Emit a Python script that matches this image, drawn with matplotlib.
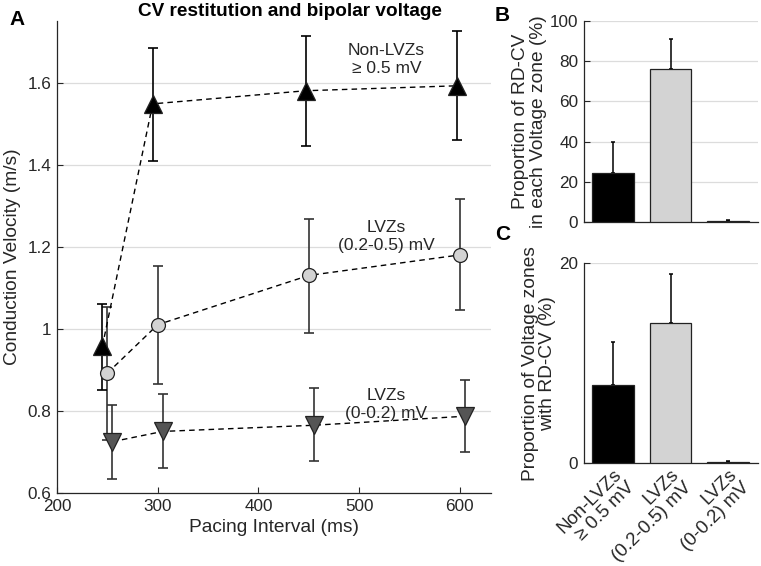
import matplotlib
matplotlib.use('Agg')
from matplotlib import pyplot as plt
import numpy as np

plt.rcParams['font.family'] = ['Liberation Sans', 'DejaVu Sans']

# Панель A: скорость проведения по интервалу стимуляции
interval_non = [245, 295, 447, 597]
cv_non = [0.957, 1.548, 1.580, 1.592]
lo_non = [0.850, 1.410, 1.445, 1.460]
hi_non = [1.060, 1.683, 1.713, 1.725]

interval_mid = [250, 300, 450, 600]
cv_mid = [0.892, 1.010, 1.130, 1.180]
lo_mid = [0.730, 0.865, 0.990, 1.045]
hi_mid = [1.052, 1.153, 1.268, 1.315]

interval_low = [255, 305, 455, 605]
cv_low = [0.725, 0.750, 0.765, 0.787]
lo_low = [0.635, 0.660, 0.678, 0.700]
hi_low = [0.815, 0.840, 0.855, 0.875]

# Панели B и C
zones = ['Non-LVZs\n\u2265 0.5 mV', 'LVZs\n(0.2-0.5) mV', 'LVZs\n(0-0.2) mV']
prop_b = [24.5, 76.0, 0.5]
err_b = [15.5, 15.0, 0.3]
prop_c = [7.8, 14.0, 0.1]
err_c = [4.3, 4.9, 0.1]

fig = plt.figure(figsize=(7.61, 5.66), dpi=100)

GRID = '#dcdcdc'
SPINE = '#262626'
FS = 13.8   # подписи осей
TFS = 12.3  # подписи делений


def style(ax):
    for s in ['top', 'right']:
        ax.spines[s].set_visible(False)
    for s in ['left', 'bottom']:
        ax.spines[s].set_color(SPINE)
        ax.spines[s].set_linewidth(0.9)
    ax.tick_params(direction='in', labelsize=TFS, colors=SPINE, length=4, pad=4)
    ax.yaxis.grid(True, color=GRID, linewidth=0.9)
    ax.set_axisbelow(True)


# --- A ---
axA = fig.add_axes([0.0749, 0.129, 0.5705, 0.834])
style(axA)

def series(ax, x, y, lo, hi, marker, face, ecol, ms):
    y = np.array(y)
    yerr = [y - np.array(lo), np.array(hi) - y]
    ax.errorbar(x, y, yerr=yerr, fmt='none', ecolor=ecol, elinewidth=1.2,
                capsize=3.6, capthick=1.2, zorder=2)
    ax.plot(x, y, linestyle='--', color='black', linewidth=1.0, zorder=3,
            dashes=(4, 3))
    ax.plot(x, y, linestyle='none', marker=marker, markersize=ms,
            markerfacecolor=face, markeredgecolor='#222222',
            markeredgewidth=0.9, zorder=4)

series(axA, interval_low, cv_low, lo_low, hi_low, 'v', '#555555', '#333333', 12.5)
series(axA, interval_mid, cv_mid, lo_mid, hi_mid, 'o', '#d3d3d3', '#333333', 10)
series(axA, interval_non, cv_non, lo_non, hi_non, '^', 'black', 'black', 12.5)

axA.set_xlim(200, 631)
axA.set_ylim(0.6, 1.75)
axA.set_xticks([200, 300, 400, 500, 600])
axA.set_yticks([0.6, 0.8, 1.0, 1.2, 1.4, 1.6])
axA.set_yticklabels(['0.6', '0.8', '1', '1.2', '1.4', '1.6'])
axA.set_xlabel('Pacing Interval (ms)', fontsize=FS, color=SPINE, labelpad=4)
axA.set_ylabel('Conduction Velocity (m/s)', fontsize=FS, color=SPINE, labelpad=5)
fig.text(290 / 761, 1 - 12 / 566, 'CV restitution and bipolar voltage',
         fontsize=13.7, fontweight='bold', ha='center', va='center')

axA.text(527, 1.655, 'Non-LVZs\n\u2265 0.5 mV', ha='center', va='center',
         fontsize=12.5, linespacing=1.25, color=SPINE)
axA.text(527, 1.225, 'LVZs\n(0.2-0.5) mV', ha='center', va='center',
         fontsize=12.5, linespacing=1.25, color=SPINE)
axA.text(527, 0.815, 'LVZs\n(0-0.2) mV', ha='center', va='center',
         fontsize=12.5, linespacing=1.25, color=SPINE)

# --- B ---
xpos = np.arange(1, 4)
colors = ['black', '#d3d3d3', 'black']

axB = fig.add_axes([0.767, 0.608, 0.229, 0.355])
style(axB)
axB.bar(xpos, prop_b, width=0.72, color=colors, edgecolor='#222222',
        linewidth=0.9, zorder=3)
axB.errorbar(xpos, prop_b, yerr=[np.zeros(3), err_b], fmt='none',
             ecolor='black', elinewidth=1.1, capsize=1.5, capthick=1.1, zorder=2)
axB.set_xlim(0.49, 3.52)
axB.set_ylim(0, 100)
axB.set_yticks([0, 20, 40, 60, 80, 100])
axB.set_xticks([])
axB.set_ylabel('Proportion of RD-CV\nin each Voltage zone (%)', fontsize=FS,
               color=SPINE, labelpad=2, linespacing=1.05)

# --- C ---
axC = fig.add_axes([0.767, 0.182, 0.229, 0.353])
style(axC)
axC.bar(xpos, prop_c, width=0.72, color=colors, edgecolor='#222222',
        linewidth=0.9, zorder=3)
axC.errorbar(xpos, prop_c, yerr=[np.zeros(3), err_c], fmt='none',
             ecolor='black', elinewidth=1.1, capsize=1.5, capthick=1.1, zorder=2)
axC.set_xlim(0.49, 3.52)
axC.set_ylim(0, 20)
axC.set_yticks([0, 20])
axC.set_xticks(xpos)
axC.set_xticklabels(zones, rotation=45, ha='right', rotation_mode='anchor',
                    fontsize=13.5, linespacing=1.1)
axC.tick_params(axis='x', length=0, pad=2)
axC.set_ylabel('Proportion of Voltage zones\nwith RD-CV (%)', fontsize=FS,
               color=SPINE, labelpad=2, linespacing=1.05)

# Буквы панелей
fig.text(0.012, 0.965, 'A', fontsize=15, fontweight='bold', va='center')
fig.text(0.650, 0.972, 'B', fontsize=15, fontweight='bold', va='center')
fig.text(0.650, 0.585, 'C', fontsize=15, fontweight='bold', va='center')

fig.savefig('out.png', dpi=100)
